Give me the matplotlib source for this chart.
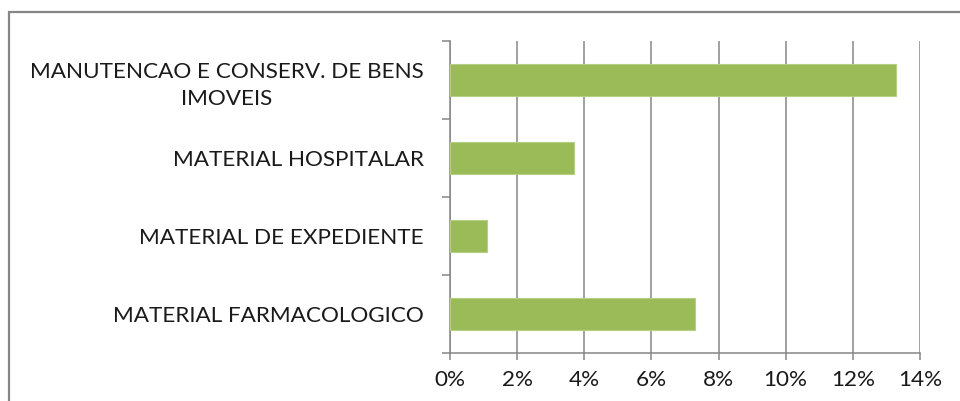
import numpy as np
import matplotlib.pyplot as plt
from matplotlib.patches import Rectangle
from matplotlib.ticker import FuncFormatter, FixedLocator

# categories listed top to bottom as in the chart
categories = ['MANUTENCAO E CONSERV. DE BENS\nIMOVEIS',
              'MATERIAL HOSPITALAR',
              'MATERIAL DE EXPEDIENTE',
              'MATERIAL FARMACOLOGICO']
values = [13.3, 3.7, 1.1, 7.3]   # percent
xticks = [0, 2, 4, 6, 8, 10, 12, 14]

plt.rcParams['font.family'] = ['Lato', 'DejaVu Sans']

bar_color = '#9BBB59'
grid_color = '#868686'
text_color = '#1a1a1a'

fig = plt.figure(figsize=(9.6, 4.01), dpi=100)
ax = fig.add_axes([450/960, 1 - 353/401, 470/960, (353 - 41)/401])

ypos = np.arange(len(categories))[::-1]
ax.barh(ypos, values, height=0.41, color=bar_color, edgecolor='#b5cf85', linewidth=0.8, zorder=3)

ax.set_xlim(0, 14)
ax.set_ylim(-0.5, len(categories) - 0.5)
ax.set_xticks(xticks)
ax.xaxis.set_major_formatter(FuncFormatter(lambda v, p: f'{v:.0f}%'))
ax.grid(axis='x', color=grid_color, linewidth=1.1, zorder=0)

ax.set_yticks(ypos)
ax.set_yticklabels(categories)
ax.yaxis.set_minor_locator(FixedLocator(np.arange(-0.5, len(categories), 1.0)))
ax.tick_params(axis='y', which='major', length=0, pad=19, labelsize=16.2, labelcolor=text_color)
ax.tick_params(axis='y', which='minor', length=6, width=1.1, color=grid_color)
ax.tick_params(axis='x', length=5, width=1.1, color=grid_color, pad=7, labelsize=16.2, labelcolor=text_color)
for lab in ax.get_yticklabels():
    lab.set_multialignment('center')
    lab.set_linespacing(1.45)

for side in ['top', 'right']:
    ax.spines[side].set_visible(False)
for side in ['left', 'bottom']:
    ax.spines[side].set_color(grid_color)
    ax.spines[side].set_linewidth(1.1)

# outer chart frame (cut off at right and bottom)
fig.add_artist(Rectangle((9/960, -0.2), 1.5, 1.2 - 12/401, transform=fig.transFigure,
                         fill=False, edgecolor=grid_color, linewidth=1.6))

fig.savefig('out.png', dpi=100)
